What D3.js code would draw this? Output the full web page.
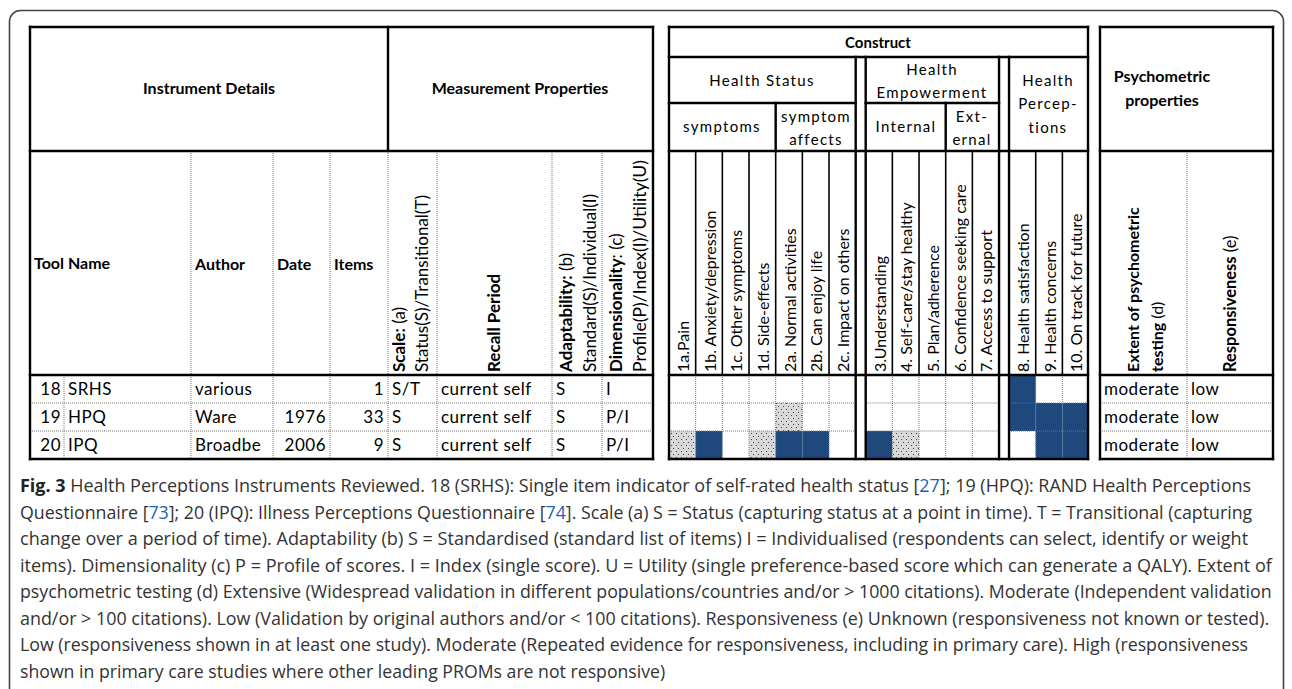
<!DOCTYPE html>
<html>
<head>
<meta charset="utf-8">
<script src="https://cdnjs.cloudflare.com/ajax/libs/d3/7.8.5/d3.min.js"></script>
<style>
    body { margin: 0; background: #fff; }
    svg { display: block; }
</style>
</head>
<body>
<script>
(function() {
    'use strict';

    // ---- data ----
    var toolIds = ['18', '19', '20'];
    var toolNames = ['SRHS', 'HPQ', 'IPQ'];
    var authors = ['various', 'Ware', 'Broadbe'];
    var dates = ['', '1976', '2006'];
    var itemCounts = [1, 33, 9];
    var scaleTypes = ['S/T', 'S', 'S'];
    var recallPeriods = ['current self', 'current self', 'current self'];
    var adaptability = ['S', 'S', 'S'];
    var dimensionality = ['I', 'P/I', 'P/I'];
    var psychometric = ['moderate', 'moderate', 'moderate'];
    var responsiveness = ['low', 'low', 'low'];

    var constructItems = ['1a.Pain', '1b. Anxiety/depression', '1c. Other symptoms', '1d. Side-effects',
        '2a. Normal activities', '2b. Can enjoy life', '2c. Impact on others',
        '3.Understanding', '4. Self-care/stay healthy', '5. Plan/adherence', '6. Confidence seeking care',
        '7. Access to support',
        '8. Health satisfaction', '9. Health concerns', '10. On track for future'];
    var constructGroups = [0, 0, 0, 0, 0, 0, 0, 1, 1, 1, 1, 1, 2, 2, 2];
    // 2 = covered, 1 = partly covered, 0 = not covered
    var coverage = [
        [0, 0, 0, 0, 0, 0, 0, 0, 0, 0, 0, 0, 2, 0, 0],
        [0, 0, 0, 0, 1, 0, 0, 0, 0, 0, 0, 0, 2, 2, 2],
        [1, 2, 0, 1, 2, 2, 0, 2, 1, 0, 0, 0, 0, 2, 2]
    ];

    // ---- layout ----
    var W = 1292, H = 689;
    var TOP = 27, HEAD = 151, DATA = 375, BOTTOM = 459;
    var font = 'Lato, "Open Sans", sans-serif';
    var blue = '#1f497d';

    var svg = d3.select('body').append('svg')
        .attr('width', W)
        .attr('height', H)
        .style('font-family', font);

    svg.append('rect').attr('width', W).attr('height', H).attr('fill', '#fff');
    svg.append('rect')
        .attr('x', 9.5).attr('y', 10.5)
        .attr('width', 1274).attr('height', 740)
        .attr('rx', 11)
        .attr('fill', 'none').attr('stroke', '#444').attr('stroke-width', 1.6);

    var defs = svg.append('defs');
    var pat = defs.append('pattern')
        .attr('id', 'dots')
        .attr('patternUnits', 'userSpaceOnUse')
        .attr('width', 5).attr('height', 6);
    pat.append('rect').attr('width', 5).attr('height', 6).attr('fill', '#d9d9d9');
    pat.append('rect').attr('x', 1).attr('y', 1).attr('width', 1).attr('height', 1).attr('fill', '#444');
    pat.append('rect').attr('x', 3).attr('y', 4).attr('width', 1).attr('height', 1).attr('fill', '#444');

    defs.append('clipPath').attr('id', 'headClip')
        .append('rect').attr('x', 30).attr('y', HEAD + 1).attr('width', 1250).attr('height', DATA - HEAD - 1);

    var y = d3.scaleBand().domain(toolIds).range([DATA, BOTTOM]);

    var cw = 26.67, gap = 10, cx0 = 669;
    var cellScale = d3.scaleLinear().domain([0, constructItems.length]).range([0, constructItems.length * cw]);
    function cellX(i) { return cx0 + cellScale(i) + constructGroups[i] * gap; }

    var lines = svg.append('g').attr('class', 'lines');
    function thick(x1, y1, x2, y2, w) {
        lines.append('line').attr('x1', x1).attr('y1', y1).attr('x2', x2).attr('y2', y2)
            .attr('stroke', '#000').attr('stroke-width', w || 2.4).attr('stroke-linecap', 'square');
    }
    function dotted(x1, y1, x2, y2) {
        lines.append('line').attr('x1', x1).attr('y1', y1).attr('x2', x2).attr('y2', y2)
            .attr('stroke', '#777').attr('stroke-width', 1).attr('stroke-dasharray', '1,1');
    }
    function box(x1, y1, x2, y2) {
        thick(x1, y1, x2, y1); thick(x1, y2, x2, y2);
        thick(x1, y1, x1, y2); thick(x2, y1, x2, y2);
    }

    // ---- construct cells ----
    var cells = [];
    coverage.forEach(function(row, r) {
        row.forEach(function(v, c) { if (v) cells.push({ r: r, c: c, v: v }); });
    });
    svg.insert('g', '.lines').selectAll('rect')
        .data(cells)
        .join('rect')
        .attr('x', function(d) { return cellX(d.c); })
        .attr('y', function(d) { return y(toolIds[d.r]); })
        .attr('width', cw)
        .attr('height', y.bandwidth())
        .attr('fill', function(d) { return d.v === 2 ? blue : 'url(#dots)'; });

    // ---- table 1 grid ----
    var t1 = [30, 64, 191, 273, 330, 388, 437, 552, 602, 653];
    toolIds.slice(1).forEach(function(id) { dotted(30, y(id), 653, y(id)); });
    t1.slice(2, -1).forEach(function(x) { dotted(x, HEAD, x, BOTTOM); });
    dotted(64, DATA, 64, BOTTOM);
    box(30, TOP, 653, BOTTOM);
    thick(388, TOP, 388, HEAD);
    thick(30, HEAD, 653, HEAD);
    thick(30, DATA, 653, DATA);

    // ---- construct grid ----
    var groupSpans = [[0, 7], [7, 12], [12, 15]];
    groupSpans.forEach(function(s) {
        var gx1 = cellX(s[0]), gx2 = cellX(s[1] - 1) + cw;
        toolIds.slice(1).forEach(function(id) { dotted(gx1, y(id), gx2, y(id)); });
        for (var i = s[0] + 1; i < s[1]; i++) {
            dotted(cellX(i), DATA, cellX(i), BOTTOM);
            thick(cellX(i), HEAD, cellX(i), DATA, 1.6);
        }
    });
    box(669, TOP, 1088, BOTTOM);
    thick(669, 57, 1088, 57);
    thick(669, 103, cellX(6) + cw, 103);
    thick(cellX(7), 103, cellX(11) + cw, 103);
    thick(669, HEAD, 1088, HEAD);
    thick(669, DATA, 1088, DATA);
    [cellX(6) + cw, cellX(7), cellX(11) + cw, cellX(12)].forEach(function(x) { thick(x, 57, x, BOTTOM); });
    thick(cellX(4), 103, cellX(4), HEAD);
    thick(cellX(10), 103, cellX(10), HEAD);

    // ---- psychometric grid ----
    toolIds.slice(1).forEach(function(id) { dotted(1100, y(id), 1273, y(id)); });
    dotted(1187, HEAD, 1187, BOTTOM);
    box(1100, TOP, 1273, BOTTOM);
    thick(1100, HEAD, 1273, HEAD);
    thick(1100, DATA, 1273, DATA);

    // ---- header text ----
    var txt = svg.append('g').attr('fill', '#000').style('font-size', '16px');
    function label(x, yy, s, opts) {
        opts = opts || {};
        return txt.append('text').attr('x', x).attr('y', yy)
            .attr('text-anchor', opts.anchor || 'middle')
            .attr('font-weight', opts.bold ? 700 : 400)
            .style('font-size', opts.size || null)
            .style('letter-spacing', opts.ls || null)
            .text(s);
    }
    label(209, 94, 'Instrument Details', { bold: true });
    label(520, 94, 'Measurement Properties', { bold: true });
    label(878, 48, 'Construct', { bold: true, size: '15px' });
    label(1162, 82, 'Psychometric', { bold: true });
    label(1162, 106, 'properties', { bold: true });

    var ls = { ls: '1.3px', size: '15px' };
    label(762, 86, 'Health Status', ls);
    label(932, 75, 'Health', ls);
    label(932, 98, 'Empowerment', ls);
    label(1048, 86, 'Health', ls);
    label(1048, 109, 'Percep-', ls);
    label(1048, 133, 'tions', ls);
    label(722, 132, 'symptoms', ls);
    label(816, 122, 'symptom', ls);
    label(816, 145, 'affects', ls);
    label(906, 132, 'Internal', ls);
    label(972, 122, 'Ext-', ls);
    label(972, 145, 'ernal', ls);

    label(34, 269, 'Tool Name', { bold: true, anchor: 'start' });
    label(195, 270, 'Author', { bold: true, anchor: 'start' });
    label(277, 270, 'Date', { bold: true, anchor: 'start' });
    label(334, 270, 'Items', { bold: true, anchor: 'start' });

    // rotated headers
    var rot = svg.append('g').attr('clip-path', 'url(#headClip)');
    function vlabel(x, parts, size) {
        var t = rot.append('text')
            .attr('transform', 'translate(' + x + ',' + 372 + ') rotate(-90)')
            .attr('dy', '0.35em')
            .style('font-size', (size || 17) + 'px');
        parts.forEach(function(p) {
            t.append('tspan').attr('font-weight', p[1] ? 700 : 400).text(p[0]);
        });
        return t;
    }
    vlabel(399, [['Scale:', true], [' (a)']]);
    vlabel(422, [['Status(S)/Transitional(T)']]);
    vlabel(494, [['Recall Period', true]]);
    vlabel(566, [['Adaptability:', true], [' (b)']]);
    vlabel(590, [['Standard(S)/Individual(I)']]);
    vlabel(616, [['Dimensionality', true], [': (c)']]);
    vlabel(640, [['Profile(P)/Index(I)/Utility(U)']], 17.6);
    vlabel(1133, [['Extent of psychometric', true]], 16);
    vlabel(1157, [['testing', true], [' (d)']], 16);
    vlabel(1230, [['Responsiveness', true], [' (e)']], 16.5);

    constructItems.forEach(function(s, i) {
        vlabel(cellX(i) + cw / 2 + 1, [[s]], 16);
    });

    // ---- row text ----
    var rowTxt = svg.append('g').style('font-size', '17px').style('letter-spacing', '0.5px');
    function col(values, x, anchor) {
        rowTxt.append('g').selectAll('text')
            .data(values)
            .join('text')
            .attr('x', x)
            .attr('y', function(d, i) { return y(toolIds[i]) + y.bandwidth() / 2 + 6; })
            .attr('text-anchor', anchor || 'start')
            .text(function(d) { return d; });
    }
    col(toolIds, 61, 'end');
    col(toolNames, 68);
    col(authors, 195);
    col(dates, 326, 'end');
    col(itemCounts, 384, 'end');
    col(scaleTypes, 392);
    col(recallPeriods, 441);
    col(adaptability, 556);
    col(dimensionality, 606);
    col(psychometric, 1104);
    col(responsiveness, 1191);

    // ---- caption ----
    var captionLines = [
        [['Fig. 3', 'b'], [' Health Perceptions Instruments Reviewed. 18 (SRHS): Single item indicator of self-rated health status ['], ['27', 'r'], ['];  19 (HPQ): RAND Health Perceptions']],
        [['Questionnaire ['], ['73', 'r'], [']; 20 (IPQ): Illness Perceptions Questionnaire ['], ['74', 'r'], [']. Scale (a) S = Status (capturing status at a point in time). T = Transitional (capturing']],
        [['change over a period of time). Adaptability (b) S = Standardised (standard list of items) I = Individualised (respondents can select, identify or weight']],
        [['items). Dimensionality (c) P = Profile of scores. I = Index (single score). U = Utility (single preference-based score which can generate a QALY). Extent of']],
        [['psychometric testing (d) Extensive (Widespread validation in different populations/countries and/or > 1000 citations). Moderate (Independent validation']],
        [['and/or > 100 citations). Low (Validation by original authors and/or < 100 citations). Responsiveness (e) Unknown (responsiveness not known or tested).']],
        [['Low (responsiveness shown in at least one study). Moderate (Repeated evidence for responsiveness, including in primary care). High (responsiveness']],
        [['shown in primary care studies where other leading PROMs are not responsive)']]
    ];
    var captionWidths = [1232, 1233, 1229, 1253, 1253, 1250, 1228, 646];
    var cap = svg.append('g').style('font-family', '"Open Sans", sans-serif').style('font-size', '18px').attr('fill', '#333');
    captionLines.forEach(function(parts, i) {
        var t = cap.append('text').attr('x', 0).attr('y', 0);
        parts.forEach(function(p) {
            t.append('tspan')
                .attr('font-weight', p[1] === 'b' ? 700 : 400)
                .attr('fill', p[1] === 'r' ? '#1b63b8' : (p[1] === 'b' ? '#222' : null))
                .text(p[0]);
        });
        var len = t.node().getComputedTextLength();
        var k = captionWidths[i] / len;
        t.attr('transform', 'translate(20,' + (492 + i * 26.5) + ') scale(' + k + ',1)');
    });
}());
</script>
</body>
</html>
